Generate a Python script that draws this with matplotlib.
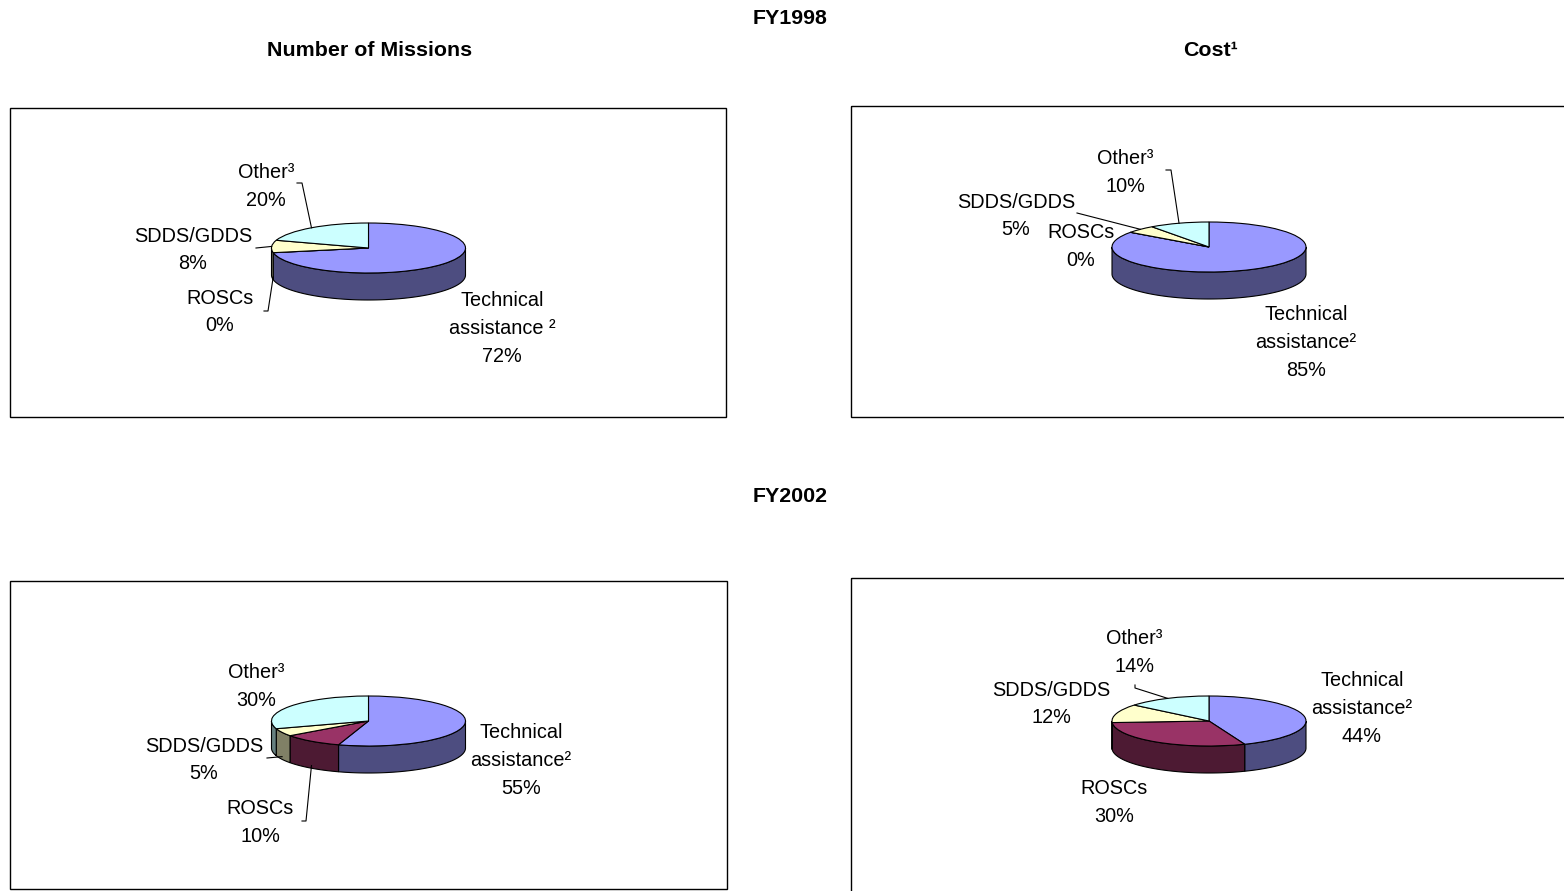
import numpy as np
import matplotlib.pyplot as plt
from matplotlib.patches import Rectangle

# data
categories = ['Technical assistance', 'ROSCs', 'SDDS/GDDS', 'Other']
missions_1998 = [72, 0, 8, 20]
cost_1998 = [85, 0, 5, 10]
missions_2002 = [55, 10, 5, 30]
cost_2002 = [44, 30, 12, 14]

name_lines_a = [['Technical', 'assistance \u00b2'], ['ROSCs'], ['SDDS/GDDS'], ['Other\u00b3']]
name_lines_b = [['Technical', 'assistance\u00b2'], ['ROSCs'], ['SDDS/GDDS'], ['Other\u00b3']]

top_colors = ['#9999FF', '#993366', '#FFFFCC', '#CCFFFF']
side_colors = ['#4D4D80', '#4D1A33', '#808066', '#668080']

W, H = 1564, 891
plt.rcParams['font.family'] = ['Liberation Sans', 'DejaVu Sans']
fig = plt.figure(figsize=(W / 100, H / 100), dpi=100)

RX, RY, DEPTH = 97, 25, 27
L = 4.0
LABEL_FS = 14.3
TITLE_FS = 15.4
LINE_H = 27.5
TEXT_DY = 2  # small vertical nudge for label text


def draw_pie(values, cx, cy):
    ax = fig.add_axes([(cx - L * RX) / W, (H - cy - L * RY) / H, 2 * L * RX / W, 2 * L * RY / H])
    d = DEPTH / RY
    edges = 90 - 3.6 * np.concatenate([[0], np.cumsum(values)])
    # side walls of the front half
    for i in range(len(values)):
        hi = min(edges[i], 0)
        lo = max(edges[i + 1], -180)
        if hi > lo:
            t = np.radians(np.linspace(lo, hi, 100))
            xs = np.concatenate([np.cos(t), np.cos(t[::-1])])
            ys = np.concatenate([np.sin(t), np.sin(t[::-1]) - d])
            ax.fill(xs, ys, facecolor=side_colors[i], edgecolor='black', lw=0.8)
    ax.pie(values, colors=top_colors, startangle=90, counterclock=False,
           wedgeprops=dict(edgecolor='black', linewidth=0.8))
    ax.set_aspect('auto')
    ax.set_xlim(-L, L)
    ax.set_ylim(-L, L)
    ax.axis('off')
    return edges


pies = [
    # values, center, names, label positions, leader starts
    (missions_1998, (368.5, 248), name_lines_a,
     [(502, 299), (220, 296), (193, 234), (266, 171)],
     [None, [(264, 311), (268, 311)], [(256, 248)], [(297, 183), (302, 183)]]),
    (cost_1998, (1209, 247), name_lines_b,
     [(1306, 313), (1081, 231), (1016, 200), (1125, 157)],
     [None, None, [(1077, 213)], [(1166, 170), (1171, 170)]]),
    (missions_2002, (368.5, 721), name_lines_b,
     [(521, 731), (260, 807), (204, 744), (256, 671)],
     [None, [(302, 821), (306, 821)], [(267, 758)], None]),
    (cost_2002, (1209, 721), name_lines_b,
     [(1362, 679), (1114, 787), (1051, 688), (1134, 637)],
     [None, None, None, [(1135, 685), (1135, 688)]]),
]

pie_edges = []
for values, (cx, cy), names, pos, leaders in pies:
    pie_edges.append(draw_pie(values, cx, cy))

# overlay in pixel coordinates
ax0 = fig.add_axes([0, 0, 1, 1])
ax0.set_xlim(0, W)
ax0.set_ylim(H, 0)
ax0.axis('off')

for x0, y0, x1, y1 in [(10, 108, 726, 417), (851, 106, 1575, 417),
                       (10, 581, 727, 889), (851, 578, 1575, 900)]:
    ax0.add_patch(Rectangle((x0, y0), x1 - x0, y1 - y0, fill=False, edgecolor='black', lw=1.0))

ax0.text(790, 19, 'FY1998', ha='center', va='center', fontsize=TITLE_FS, fontweight='bold')
ax0.text(370, 51, 'Number of Missions', ha='center', va='center', fontsize=TITLE_FS, fontweight='bold')
ax0.text(1210, 51, 'Cost\u00b9', ha='center', va='center', fontsize=TITLE_FS, fontweight='bold')
ax0.text(790, 497, 'FY2002', ha='center', va='center', fontsize=TITLE_FS, fontweight='bold')

for (values, (cx, cy), names, pos, leaders), edges in zip(pies, pie_edges):
    for i, v in enumerate(values):
        lines = names[i] + [f'{v}%']
        lx, ly = pos[i]
        for k, s in enumerate(lines):
            ax0.text(lx, ly + TEXT_DY + k * LINE_H, s, ha='center', va='center', fontsize=LABEL_FS)
        if leaders[i] is not None:
            mid = np.radians((edges[i] + edges[i + 1]) / 2)
            tx = cx + RX * np.cos(mid)
            ty = cy - RY * np.sin(mid)
            if np.sin(mid) < 0:
                ty += DEPTH * 0.9
            pts = leaders[i] + [(tx, ty)]
            ax0.plot([p[0] for p in pts], [p[1] for p in pts], color='black', lw=0.8)

fig.savefig('out.png', dpi=100)
